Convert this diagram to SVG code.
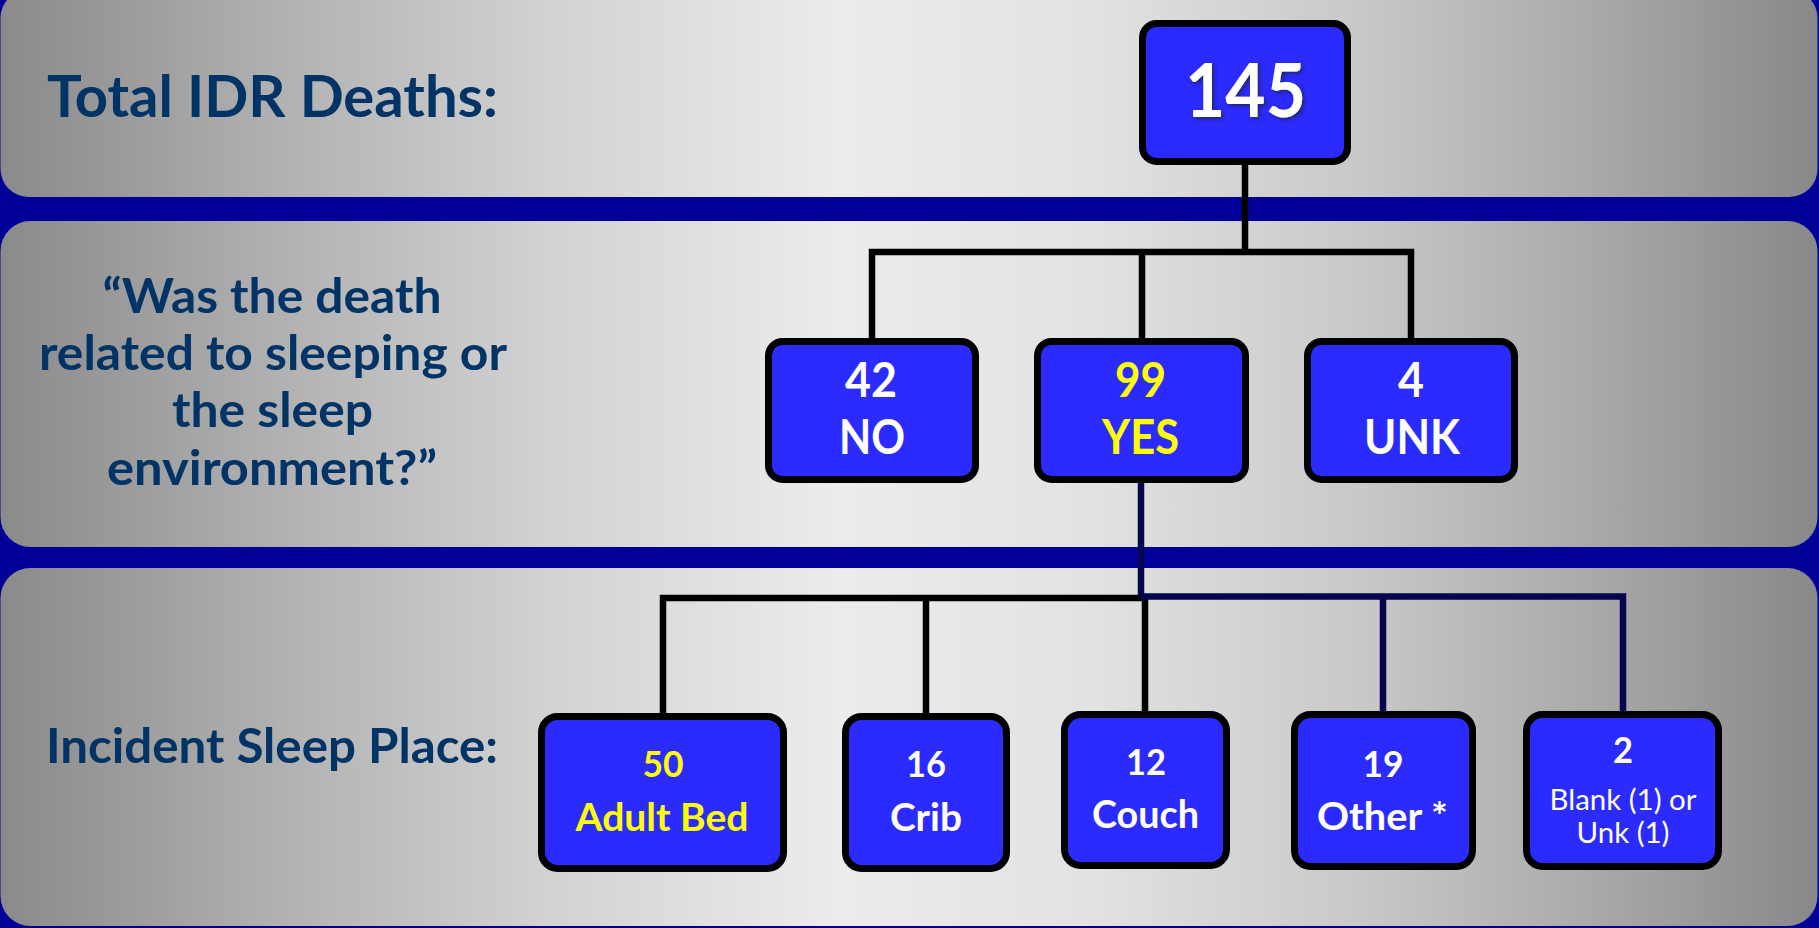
<svg xmlns="http://www.w3.org/2000/svg" width="1819" height="928" viewBox="0 0 1819 928">
<defs>
<linearGradient id="band" gradientUnits="userSpaceOnUse" x1="0" y1="0" x2="1819" y2="0">
<stop offset="0" stop-color="#8a8a8a"/>
<stop offset="0.15" stop-color="#b0b0b0"/>
<stop offset="0.3" stop-color="#d2d2d2"/>
<stop offset="0.46" stop-color="#ececec"/>
<stop offset="0.6" stop-color="#e2e2e2"/>
<stop offset="0.75" stop-color="#c8c8c8"/>
<stop offset="0.88" stop-color="#a8a8a8"/>
<stop offset="1" stop-color="#888888"/>
</linearGradient>
<filter id="glow" x="-20%" y="-20%" width="140%" height="140%">
<feDropShadow dx="2" dy="2" stdDeviation="2" flood-color="#222244" flood-opacity="0.8"/>
</filter>
</defs>
<style>
.band{fill:url(#band)}
.lbl{font-family:Lato,"Open Sans","Liberation Sans",sans-serif;font-weight:bold;fill:#003366}
.node{fill:#2b2bff;stroke:#000;stroke-width:7}
.t{font-family:Lato,"Open Sans","Liberation Sans",sans-serif;font-weight:bold;fill:#fff;text-anchor:middle}
.y{fill:#ffff00}
.r{font-weight:normal}
.cb{fill:none;stroke:#000;stroke-width:6.5;stroke-linejoin:miter}
.cn{fill:none;stroke:#06064f;stroke-width:6.5;stroke-linejoin:miter}
</style>
<rect width="1819" height="928" fill="#000099"/>
<g id="bands">
<rect class="band" x="0.5" y="-10" width="1817" height="207" rx="28"/>
<rect class="band" x="0.5" y="221" width="1817" height="326" rx="30"/>
<rect class="band" x="0.5" y="568" width="1817" height="358" rx="30"/>
</g>
<g id="labels">
<text class="lbl" x="47" y="117" font-size="58" textLength="451" lengthAdjust="spacingAndGlyphs">Total IDR Deaths:</text>
<text class="lbl" x="272" y="313" font-size="48" text-anchor="middle" textLength="339" lengthAdjust="spacingAndGlyphs">“Was the death</text>
<text class="lbl" x="273" y="370" font-size="48" text-anchor="middle" textLength="468" lengthAdjust="spacingAndGlyphs">related to sleeping or</text>
<text class="lbl" x="272.5" y="427" font-size="48" text-anchor="middle" textLength="201" lengthAdjust="spacingAndGlyphs">the sleep</text>
<text class="lbl" x="272" y="485" font-size="48" text-anchor="middle" textLength="330" lengthAdjust="spacingAndGlyphs">environment?”</text>
<text class="lbl" x="46" y="763" font-size="48" textLength="452" lengthAdjust="spacingAndGlyphs">Incident Sleep Place:</text>
</g>
<g id="connectors">
<path class="cb" d="M1245,165 V252"/>
<path class="cb" d="M872,341 V252 H1411 V341"/>
<path class="cb" d="M1142,252 V341"/>
<path class="cn" d="M1141,483 V597"/>
<path class="cb" d="M663,716 V598 H1145 V714"/>
<path class="cb" d="M926,598 V716"/>
<path class="cn" d="M1141,596.5 H1623 V714"/>
<path class="cn" d="M1383,596.5 V714"/>
</g>
<g id="n145">
<rect class="node" x="1142.5" y="23.5" width="205" height="138" rx="14"/>
<text class="t" x="1245.5" y="117" font-size="74" textLength="121" lengthAdjust="spacingAndGlyphs" filter="url(#glow)">145</text>
</g>
<g id="nNo">
<rect class="node" x="768.5" y="341.5" width="207" height="138" rx="14"/>
<text class="t" x="871" y="397" font-size="47" textLength="52" lengthAdjust="spacingAndGlyphs">42</text>
<text class="t" x="872" y="454" font-size="47" textLength="66" lengthAdjust="spacingAndGlyphs">NO</text>
</g>
<g id="nYes">
<rect class="node" x="1037.5" y="341.5" width="208" height="138" rx="14"/>
<text class="t y" x="1140.5" y="397" font-size="47" textLength="51" lengthAdjust="spacingAndGlyphs">99</text>
<text class="t y" x="1140.5" y="454" font-size="47" textLength="77" lengthAdjust="spacingAndGlyphs">YES</text>
</g>
<g id="nUnk">
<rect class="node" x="1307.5" y="341.5" width="207" height="138" rx="14"/>
<text class="t" x="1411" y="397" font-size="47" textLength="26" lengthAdjust="spacingAndGlyphs">4</text>
<text class="t" x="1412" y="454" font-size="47" textLength="96" lengthAdjust="spacingAndGlyphs">UNK</text>
</g>
<g id="nAdultBed">
<rect class="node" x="541.5" y="716.5" width="242" height="152" rx="16"/>
<text class="t y" x="663" y="777" font-size="36" textLength="41" lengthAdjust="spacingAndGlyphs">50</text>
<text class="t y" x="662" y="831" font-size="39" textLength="173" lengthAdjust="spacingAndGlyphs">Adult Bed</text>
</g>
<g id="nCrib">
<rect class="node" x="845.5" y="716.5" width="161" height="152" rx="16"/>
<text class="t" x="926" y="777" font-size="36" textLength="40" lengthAdjust="spacingAndGlyphs">16</text>
<text class="t" x="926" y="831" font-size="39" textLength="72" lengthAdjust="spacingAndGlyphs">Crib</text>
</g>
<g id="nCouch">
<rect class="node" x="1064.5" y="714.5" width="162" height="151" rx="16"/>
<text class="t" x="1146" y="775" font-size="36" textLength="40" lengthAdjust="spacingAndGlyphs">12</text>
<text class="t" x="1145.5" y="828" font-size="39" textLength="107" lengthAdjust="spacingAndGlyphs">Couch</text>
</g>
<g id="nOther">
<rect class="node" x="1294.5" y="714.5" width="178" height="152" rx="16"/>
<text class="t" x="1383" y="777" font-size="36" textLength="41" lengthAdjust="spacingAndGlyphs">19</text>
<text class="t" x="1382.5" y="830" font-size="39" textLength="131" lengthAdjust="spacingAndGlyphs">Other *</text>
</g>
<g id="nBlank">
<rect class="node" x="1526.5" y="714.5" width="192" height="152" rx="16"/>
<text class="t" x="1623" y="763" font-size="36" textLength="20" lengthAdjust="spacingAndGlyphs">2</text>
<text class="t r" x="1623" y="810" font-size="28" textLength="147" lengthAdjust="spacingAndGlyphs">Blank (1) or</text>
<text class="t r" x="1623" y="843" font-size="28" textLength="93" lengthAdjust="spacingAndGlyphs">Unk (1)</text>
</g>
</svg>
